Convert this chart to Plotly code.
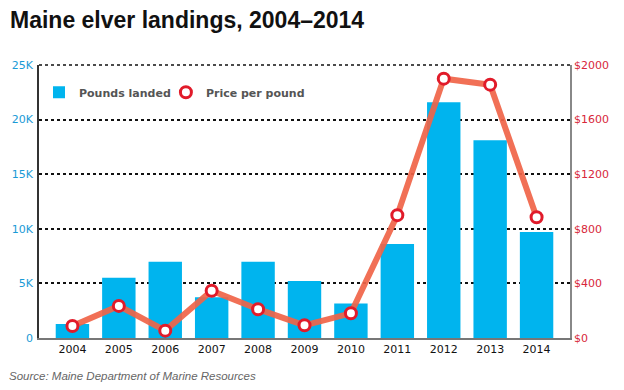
import plotly.graph_objects as go

years = ["2004", "2005", "2006", "2007", "2008", "2009", "2010", "2011", "2012", "2013", "2014"]
pounds = [1290, 5510, 6980, 3740, 6980, 5210, 3160, 8600, 21600, 18100, 9700]
price = [88, 235, 54, 346, 211, 93, 181, 900, 1900, 1856, 885]
left_ticks = [0, 5000, 10000, 15000, 20000, 25000]
left_labels = ["0", "5K", "10K", "15K", "20K", "25K"]
right_ticks = [0, 400, 800, 1200, 1600, 2000]
right_labels = ["$0", "$400", "$800", "$1200", "$1600", "$2000"]

BAR = "#00B4EE"
LINE = "rgba(240,100,72,0.92)"
RED = "#E11B2A"
BLUE_TXT = "#1A9AD6"
RED_TXT = "#D8263A"
FONT = "DejaVu Sans"

fig = go.Figure()
fig.add_trace(go.Bar(x=years, y=pounds, marker=dict(color=BAR, line=dict(width=0)),
                     name="Pounds landed", yaxis="y", legend="legend"))
fig.add_trace(go.Scatter(x=years, y=price, mode="lines+markers", yaxis="y2",
                         line=dict(color=LINE, width=6),
                         marker=dict(size=11, color="white", line=dict(color=RED, width=3)),
                         showlegend=False, name="Price per pound"))
fig.add_trace(go.Scatter(x=[None], y=[None], mode="markers", yaxis="y2",
                         marker=dict(size=11, color="white", line=dict(color=RED, width=3)),
                         name="Price per pound", legend="legend2"))

legend_font = dict(family=FONT, size=11, color="#555555", weight="bold")
fig.update_layout(
    width=624, height=390,
    margin=dict(l=35, r=54, t=65, b=52),
    paper_bgcolor="white", plot_bgcolor="white",
    bargap=0.28,
    showlegend=True,
    legend=dict(orientation="h", x=0.0, y=0.90, xanchor="left", yanchor="middle",
                bgcolor="rgba(0,0,0,0)", font=legend_font, itemwidth=30),
    legend2=dict(orientation="h", x=0.239, y=0.90, xanchor="left", yanchor="middle",
                 bgcolor="rgba(0,0,0,0)", font=legend_font, itemwidth=30),
    xaxis=dict(showgrid=False, tickfont=dict(family=FONT, size=11, color="#111111"),
               showline=True, linecolor="#777777", linewidth=1.5, ticks="",
               zeroline=False),
    yaxis=dict(range=[0, 25000], tickvals=left_ticks, ticktext=left_labels,
               tickfont=dict(family=FONT, size=11, color=BLUE_TXT),
               showgrid=True, gridcolor="#111111", gridwidth=1.5, griddash="dot",
               showline=True, linecolor="#333333", linewidth=1.5,
               zeroline=False, ticks="", ticklabelstandoff=2),
    yaxis2=dict(range=[0, 2000], tickvals=right_ticks, ticktext=right_labels,
                overlaying="y", side="right",
                tickfont=dict(family=FONT, size=11, color=RED_TXT),
                showgrid=False, showline=True, linecolor="#888888", linewidth=1.5,
                zeroline=False, ticks=""),
    title=dict(text="<b>Maine elver landings, 2004\u20132014</b>", x=10/624, xanchor="left",
               xref="container", y=0.95, yanchor="middle", yref="container",
               font=dict(family="Liberation Sans", size=23, color="#111111")),
)
# top dotted gridline at the plot edge
fig.add_shape(type="line", xref="paper", yref="y domain", x0=0, x1=1, y0=1, y1=1,
              line=dict(color="#111111", width=1.5, dash="dot"), layer="below")
fig.add_annotation(text="<i>Source: Maine Department of Marine Resources</i>",
                   xref="paper", yref="paper", x=-32/535, y=-0.14, xanchor="left", yanchor="middle",
                   showarrow=False, font=dict(family="Liberation Sans", size=11.5, color="#666666"))

fig.write_html("out.html", post_script="document.body.style.margin='0';",
               config={"displayModeBar": False})
